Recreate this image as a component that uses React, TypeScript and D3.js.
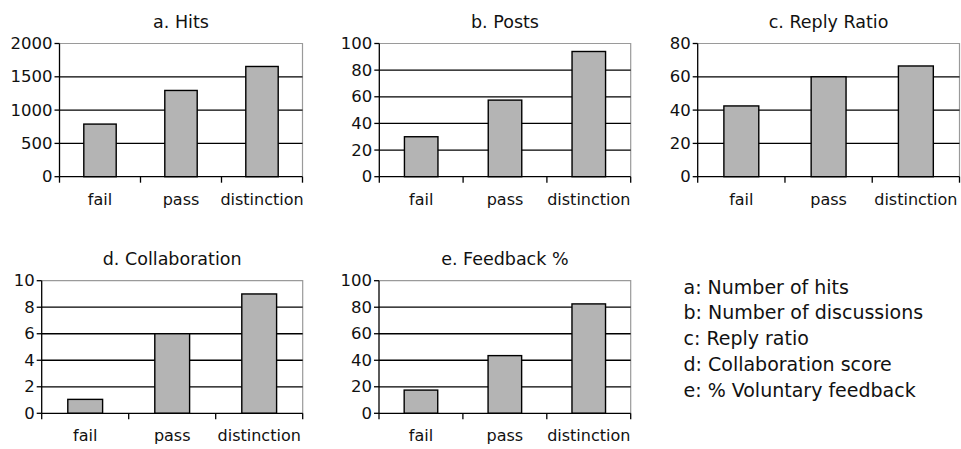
import * as d3 from 'd3';

// categories and values
const categories = ['fail', 'pass', 'distinction'];
const hits = [790, 1295, 1655];
const posts = [30, 57.5, 94];
const replyRatio = [42.5, 60, 66.5];
const collaboration = [1.05, 6, 9];
const feedback = [17.5, 43.5, 82.5];

const titles = ['a. Hits', 'b. Posts', 'c. Reply Ratio', 'd. Collaboration', 'e. Feedback %'];
const yMax = [2000, 100, 80, 10, 100];
const yStep = [500, 20, 20, 2, 20];
const legendLines = [
  'a: Number of hits',
  'b: Number of discussions',
  'c: Reply ratio',
  'd: Collaboration score',
  'e: % Voluntary feedback',
];

const series = [hits, posts, replyRatio, collaboration, feedback];

// plot-area frames (layout)
const frames = [
  { left: 59.5, right: 302.5, top: 43.5, bottom: 176.7 },
  { left: 379.3, right: 630.7, top: 43.5, bottom: 176.7 },
  { left: 697.7, right: 959.5, top: 43.5, bottom: 176.7 },
  { left: 41.7, right: 302.7, top: 280.7, bottom: 413.3 },
  { left: 379, right: 630.7, top: 280.7, bottom: 413.3 },
];

const FONT = 'DejaVu Sans, Verdana, sans-serif';

function Panel({ idx }: { idx: number }) {
  const f = frames[idx];
  const values = series[idx];
  const x = d3
    .scaleBand<string>()
    .domain(categories)
    .range([f.left, f.right])
    .paddingInner(0.6)
    .paddingOuter(0.3);
  const y = d3.scaleLinear().domain([0, yMax[idx]]).range([f.bottom, f.top]);
  const ticks = d3.range(0, yMax[idx] + yStep[idx] / 2, yStep[idx]);
  const step = (f.right - f.left) / categories.length;
  const catTicks = d3.range(0, categories.length + 1).map((i) => f.left + i * step);

  return (
    <g>
      <text
        x={(f.left + f.right) / 2}
        y={f.top - 16}
        textAnchor="middle"
        fontSize={17.5}
        fontFamily={FONT}
        fill="#111"
      >
        {titles[idx]}
      </text>
      {/* plot border top/right */}
      <path
        d={`M${f.left},${f.top}H${f.right}V${f.bottom}`}
        fill="none"
        stroke="#9a9a9a"
        strokeWidth={1.2}
      />
      {/* gridlines */}
      {ticks.slice(1, -1).map((t) => (
        <line key={t} x1={f.left} x2={f.right} y1={y(t)} y2={y(t)} stroke="#000" strokeWidth={1.3} />
      ))}
      {/* bars */}
      {categories.map((c, i) => (
        <rect
          key={c}
          x={x(c)}
          y={y(values[i])}
          width={x.bandwidth()}
          height={y(0) - y(values[i])}
          fill="#b4b4b4"
          stroke="#000"
          strokeWidth={1.4}
        />
      ))}
      {/* y axis */}
      <line x1={f.left} x2={f.left} y1={f.top} y2={f.bottom} stroke="#000" strokeWidth={1.3} />
      {ticks.map((t) => (
        <g key={t}>
          <line x1={f.left - 5} x2={f.left} y1={y(t)} y2={y(t)} stroke="#000" strokeWidth={1.3} />
          <text
            x={f.left - 7}
            y={y(t)}
            textAnchor="end"
            dominantBaseline="central"
            fontSize={16.5}
            fontFamily={FONT}
            fill="#111"
          >
            {t}
          </text>
        </g>
      ))}
      {/* x axis */}
      <line x1={f.left} x2={f.right} y1={f.bottom} y2={f.bottom} stroke="#000" strokeWidth={1.3} />
      {catTicks.map((cx, i) => (
        <line key={i} x1={cx} x2={cx} y1={f.bottom} y2={f.bottom + 6} stroke="#000" strokeWidth={1.3} />
      ))}
      {categories.map((c) => (
        <text
          key={c}
          x={(x(c) as number) + x.bandwidth() / 2}
          y={f.bottom + 28}
          textAnchor="middle"
          fontSize={16}
          fontFamily={FONT}
          fill="#111"
        >
          {c}
        </text>
      ))}
    </g>
  );
}

export default function App() {
  return (
    <svg
      width={961}
      height={449}
      style={{ position: 'absolute', left: 0, top: 0, background: '#fff' }}
    >
      <rect width={961} height={449} fill="#fff" />
      {series.map((_, i) => (
        <Panel key={i} idx={i} />
      ))}
      {legendLines.map((line, i) => (
        <text
          key={line}
          x={683.5}
          y={293.5 + i * 25.8}
          fontSize={19}
          fontFamily={FONT}
          fill="#111"
        >
          {line}
        </text>
      ))}
    </svg>
  );
}
